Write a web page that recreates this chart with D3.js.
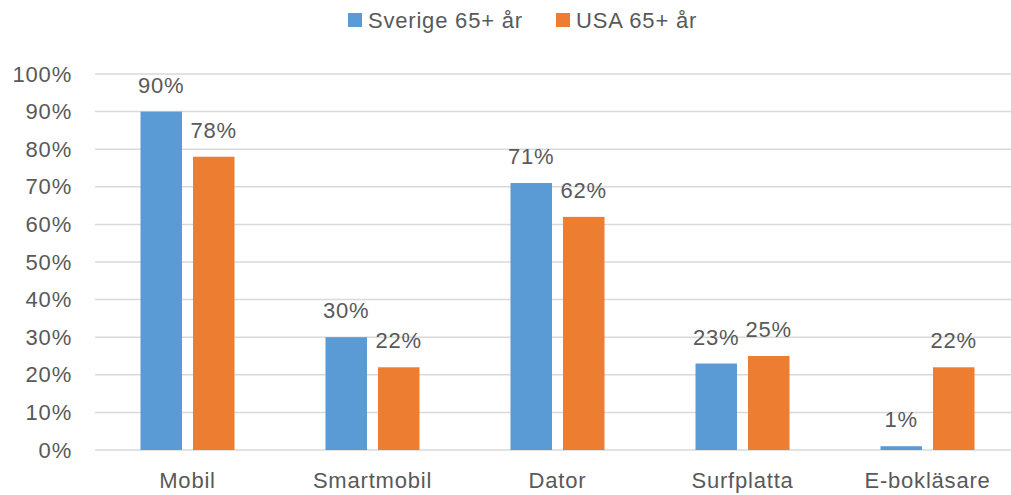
<!DOCTYPE html>
<html>
<head>
<meta charset="utf-8">
<script src="https://cdn.jsdelivr.net/npm/d3@7"></script>
<style>
  body { margin: 0; background: #fff; }
  text { font-family: "Liberation Sans", Arial, sans-serif; fill: #595959; letter-spacing: 0.8px; }
</style>
</head>
<body>
<main></main>
<script>
const w = 1011;
const h = 495;

const categories = ["Mobil", "Smartmobil", "Dator", "Surfplatta", "E-bokläsare"];
const seriesNames = ["Sverige 65+ år", "USA 65+ år"];
const sverige = [90, 30, 71, 23, 1];
const usa = [78, 22, 62, 25, 22];
const yTicks = [0, 10, 20, 30, 40, 50, 60, 70, 80, 90, 100];
const colors = ["#5B9BD5", "#ED7D31"];

const plotLeft = 95, plotRight = 1020, plotTop = 74, plotBottom = 450;
const barWidth = 41.5;
const barGap = 11;
const fontSize = 22;

const xScale = d3.scaleBand()
    .domain(categories)
    .range([plotLeft, plotRight]);

const yScale = d3.scaleLinear()
    .domain([0, 100])
    .range([plotBottom, plotTop]);

const svg = d3.select("main")
    .append("svg")
    .attr("width", w)
    .attr("height", h);

// gridlines
svg.append("g")
    .selectAll("line")
    .data(yTicks)
    .enter()
    .append("line")
    .attr("x1", plotLeft)
    .attr("x2", plotRight)
    .attr("y1", d => yScale(d))
    .attr("y2", d => yScale(d))
    .attr("stroke", "#D9D9D9")
    .attr("stroke-width", 1.5);

// y axis labels
const yAxis = d3.axisLeft(yScale)
    .tickValues(yTicks)
    .tickFormat(d => d + "%")
    .tickSize(0)
    .tickPadding(0);

svg.append("g")
    .attr("transform", "translate(72, 0)")
    .call(yAxis)
    .call(g => g.select(".domain").remove())
    .selectAll("text")
    .attr("font-size", fontSize)
    .attr("font-family", null)
    .attr("fill", null);

// x axis labels
const xAxis = d3.axisBottom(xScale).tickSize(0).tickPadding(0);
svg.append("g")
    .attr("transform", "translate(0, 472)")
    .call(xAxis)
    .call(g => g.select(".domain").remove())
    .selectAll("text")
    .attr("font-size", fontSize)
    .attr("font-family", null)
    .attr("fill", null);

const series = [sverige, usa];
const offsets = [-(barGap / 2 + barWidth), barGap / 2];

series.forEach((vals, s) => {
    const g = svg.append("g");
    g.selectAll("rect")
        .data(vals)
        .enter()
        .append("rect")
        .attr("x", (d, i) => xScale(categories[i]) + xScale.bandwidth() / 2 + offsets[s])
        .attr("y", d => yScale(d))
        .attr("width", barWidth)
        .attr("height", d => plotBottom - yScale(d))
        .attr("fill", colors[s]);

    g.selectAll("text")
        .data(vals)
        .enter()
        .append("text")
        .attr("x", (d, i) => xScale(categories[i]) + xScale.bandwidth() / 2 + offsets[s] + barWidth / 2)
        .attr("y", d => yScale(d) - 19)
        .attr("text-anchor", "middle")
        .attr("font-size", fontSize)
        .text(d => d + "%");
});

// legend
const legendX = [348, 556];
const legend = svg.append("g");
seriesNames.forEach((name, i) => {
    legend.append("rect")
        .attr("x", legendX[i])
        .attr("y", 13)
        .attr("width", 14)
        .attr("height", 14)
        .attr("fill", colors[i]);
    legend.append("text")
        .attr("x", legendX[i] + 20)
        .attr("y", 28)
        .attr("font-size", fontSize)
        .text(name);
});
</script>
</body>
</html>
